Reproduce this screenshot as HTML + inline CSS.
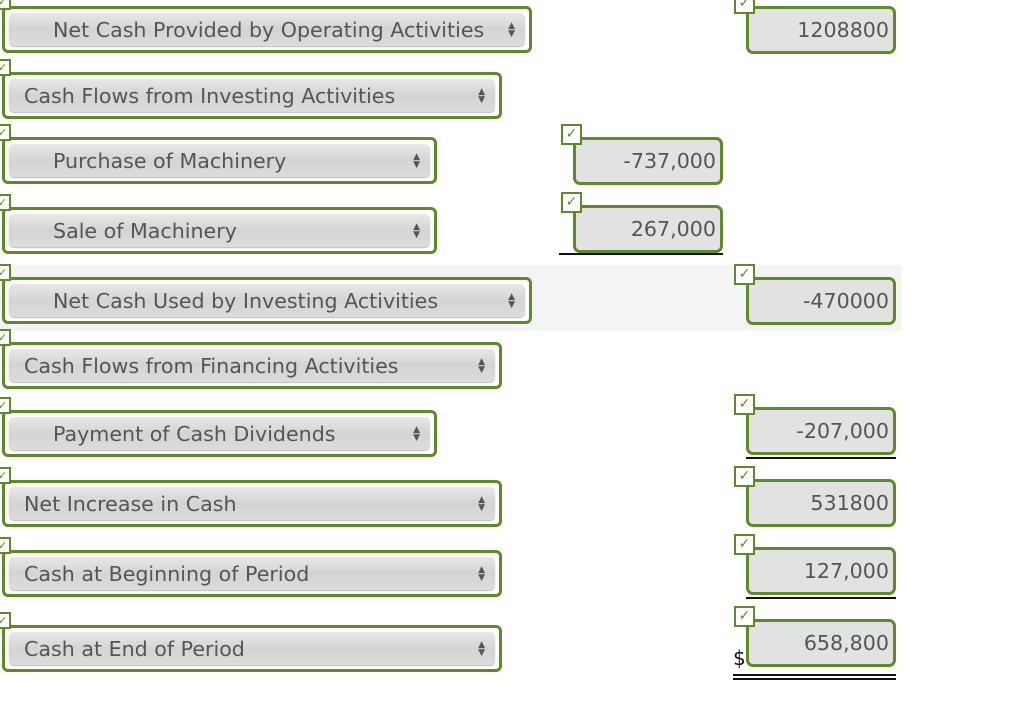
<!DOCTYPE html>
<html><head><meta charset="utf-8"><style>
body{margin:0;width:1024px;height:702px;background:#fff;position:relative;overflow:hidden;font-family:"DejaVu Sans","Liberation Sans",sans-serif;}
.sel,.inp{position:absolute;box-sizing:border-box;border:3px solid #5f8a2a;border-radius:6px;background:#fff;}
.sel .in{position:absolute;left:4px;right:4px;top:4px;bottom:4px;border-radius:5px;background:linear-gradient(#e8e8e8,#d4d4d4 50%,#dcdcdc);box-shadow:0 1px 1px #bbb;}
.sel .t{position:absolute;top:50%;transform:translateY(-50%);font-size:20.6px;color:#555;white-space:nowrap;}
.sel .ar{position:absolute;right:14px;top:50%;transform:translateY(-50%);font-size:9px;line-height:8px;color:#555;text-align:center;}
.inp{background:#e2e2e2;border-radius:7px;}
.inp .v{position:absolute;right:4px;top:50%;transform:translateY(-50%);font-size:20.6px;color:#555;}
.cb{position:absolute;width:17px;height:17px;box-sizing:border-box;border:2px solid #5f8a2a;background:#fff;color:#5f8a2a;font-size:11px;line-height:13px;text-align:center;font-weight:bold;}
.ln{position:absolute;height:2px;background:#111;}
</style></head><body>
<div style="position:absolute;left:0;top:265px;width:902px;height:66px;background:#f4f4f4"></div>
<script>
const rows=[
 ["Net Cash Provided by Operating Activities",6,532,53],
 ["Cash Flows from Investing Activities",72,502,24],
 ["Purchase of Machinery",137,437,53],
 ["Sale of Machinery",207,437,53],
 ["Net Cash Used by Investing Activities",277,532,53],
 ["Cash Flows from Financing Activities",342,502,24],
 ["Payment of Cash Dividends",410,437,53],
 ["Net Increase in Cash",480,502,24],
 ["Cash at Beginning of Period",550,502,24],
 ["Cash at End of Period",625,502,24]];
const inputs=[
 ["1208800",746,6],["-737,000",573,137],["267,000",573,205],["-470000",746,277],
 ["-207,000",746,407],["531800",746,479],["127,000",746,547],["658,800",746,619]];
let h='';
rows.forEach(r=>{
 h+=`<div class="sel" style="left:2px;top:${r[1]}px;width:${r[2]-2}px;height:47px"><div class="in"></div><span class="t" style="left:${r[3]-5}px">${r[0]}</span><span class="ar">▲<br>▼</span></div>`;
 h+=`<div class="cb" style="left:-6px;top:${r[1]-13}px">✓</div>`;
});
inputs.forEach(r=>{
 h+=`<div class="inp" style="left:${r[1]}px;top:${r[2]}px;width:150px;height:48px"><span class="v">${r[0]}</span></div>`;
 h+=`<div class="cb" style="left:${r[1]-12}px;top:${r[2]-13}px;width:21px;height:21px;line-height:17px;font-size:14px">✓</div>`;
});
document.write(h);
</script>
<div class="ln" style="left:559px;top:253px;width:164px"></div>
<div class="ln" style="left:746px;top:457px;width:150px"></div>
<div class="ln" style="left:746px;top:597px;width:150px"></div>
<div class="ln" style="left:733px;top:674px;width:163px"></div>
<div class="ln" style="left:733px;top:678px;width:163px"></div>
<div style="position:absolute;left:733px;top:646px;font-size:20px;color:#111">$</div>
</body></html>
